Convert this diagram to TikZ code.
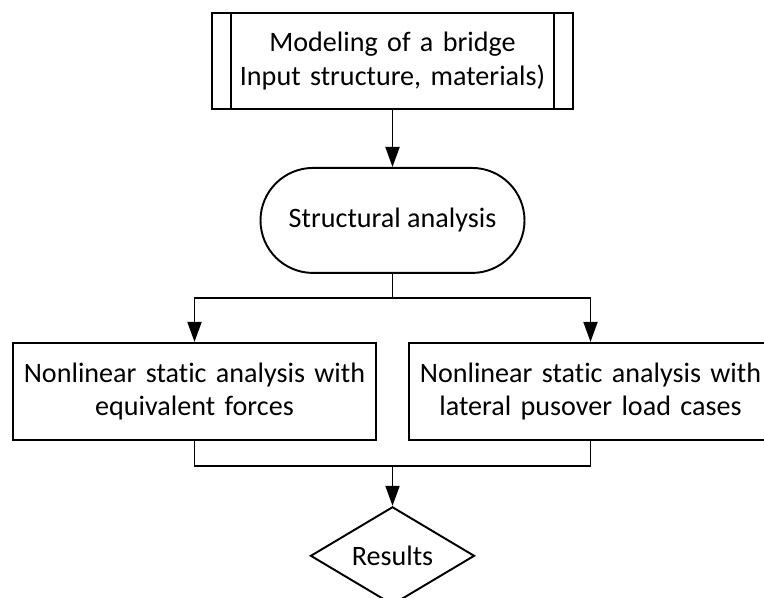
\documentclass[tikz,border=0pt]{standalone}
\usepackage{fontspec}
\setmainfont{Carlito}[Ligatures=NoCommon]
\usetikzlibrary{arrows.meta}
\usetikzlibrary{shapes,positioning,calc}

\begin{document}
\begin{tikzpicture}[auto, line width=1.1pt, font=\fontsize{16}{19}\selectfont]
\tikzset{
process/.style = {draw, rectangle, text width=6.4cm, align=center, minimum width=7.22cm, minimum height=1.92cm},
terminal/.style = {draw, rectangle, rounded corners=1.05cm, minimum width=5.28cm, minimum height=2.1cm},
operation/.style = {rectangle, draw, text width=7cm, align=center, minimum width=7.26cm, minimum height=1.94cm},
question/.style = {diamond, draw, aspect=1.67, minimum width=3.28cm, minimum height=1.96cm, inner sep=0pt},
line/.style = {draw, -{Triangle[length=0.4cm, width=0.28cm]}}
}
\useasboundingbox (0,0) rectangle (15.28,-11.94);

     \node [process] (model) at (7.85,-1.22) {Modeling of a bridge\\ Input structure, materials)};
     \node [terminal, below=1.14cm of model] (analysis) {Structural analysis};
     \node [operation, below=1.36cm of analysis, xshift=-3.96cm] (staticeq) {Nonlinear static analysis with\\ equivalent forces};
     \node [operation, below=1.36cm of analysis, xshift=3.96cm] (staticpush) {Nonlinear static analysis with\\ lateral pusover load cases};
     \coordinate (split) at ($(analysis.south)+(0,-0.48)$);
     \coordinate (merge) at ($(analysis |- staticeq.south)+(0,-0.5)$);
     \node [question, below=0.8cm of merge] (results) {Results};

     % side bars of the process box
     \draw ([xshift=0.39cm]model.north west) -- ([xshift=0.39cm]model.south west);
     \draw ([xshift=-0.4cm]model.north east) -- ([xshift=-0.4cm]model.south east);

     \path [line] (model) -- (analysis);
     \draw (analysis) -- (split);
     \path [line] (split) -| (staticeq);
     \path [line] (split) -| (staticpush);
     \draw (staticeq) |- (merge);
     \draw (staticpush) |- (merge);
     \path [line] (merge) -- (results);
\end{tikzpicture}
\end{document}
